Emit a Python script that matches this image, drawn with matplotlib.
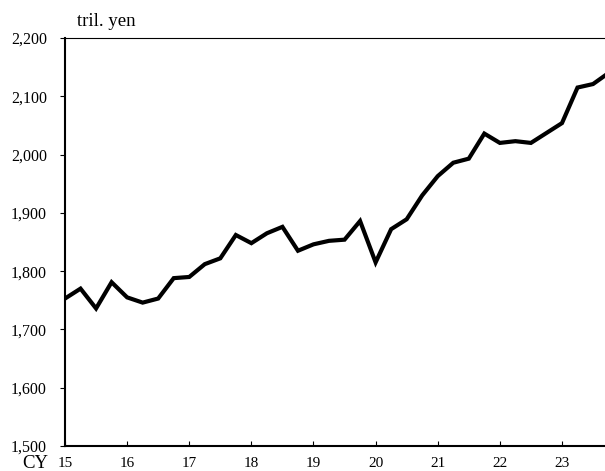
import matplotlib
matplotlib.use("Agg")
import matplotlib.pyplot as plt
import numpy as np

plt.rcParams['font.family'] = ['Liberation Serif', 'DejaVu Serif']

values = [1753, 1770, 1736, 1781, 1755, 1746, 1753, 1788, 1790, 1812, 1822, 1862,
          1848, 1865, 1876, 1835, 1846, 1852, 1854, 1886, 1815, 1872, 1889, 1930,
          1963, 1986, 1993, 2036, 2020, 2023, 2020, 2037, 2054, 2115, 2121, 2140]
year_labels = ["15", "16", "17", "18", "19", "20", "21", "22", "23"]
y_ticks = [1500, 1600, 1700, 1800, 1900, 2000, 2100, 2200]

fig = plt.figure(figsize=(6.05, 4.71), dpi=100)
ax = fig.add_axes([65/605, 1 - 446/471, 1 - 65/605, (446 - 38)/471])

x = np.arange(len(values))
ax.plot(x, values, color='black', lw=3.0, solid_joinstyle='miter', clip_on=True)

ax.set_xlim(0, 34.77)
ax.set_ylim(1500, 2200)
ax.set_yticks(y_ticks)
ax.set_yticklabels([f"{v:,}" for v in y_ticks], fontsize=11.5)
ax.set_xticks(np.arange(0, 4 * len(year_labels), 4))
ax.set_xticklabels(year_labels, fontsize=11)

ax.tick_params(axis='y', direction='out', length=3.6, width=0.8, pad=9.5)
ax.tick_params(axis='x', direction='in', length=3.6, width=0.8, pad=8)

ax.spines['right'].set_visible(False)
ax.spines['top'].set_linewidth(0.8)
ax.spines['left'].set_linewidth(1.5)
ax.spines['bottom'].set_linewidth(1.5)

fig.text(77/605, 1 - 21/471, "tril. yen", fontsize=13.5, va='center', ha='left')
fig.text(48/605, 1 - 464/471, "CY", fontsize=13.5, va='center', ha='right')

fig.savefig("out.png", dpi=100)
